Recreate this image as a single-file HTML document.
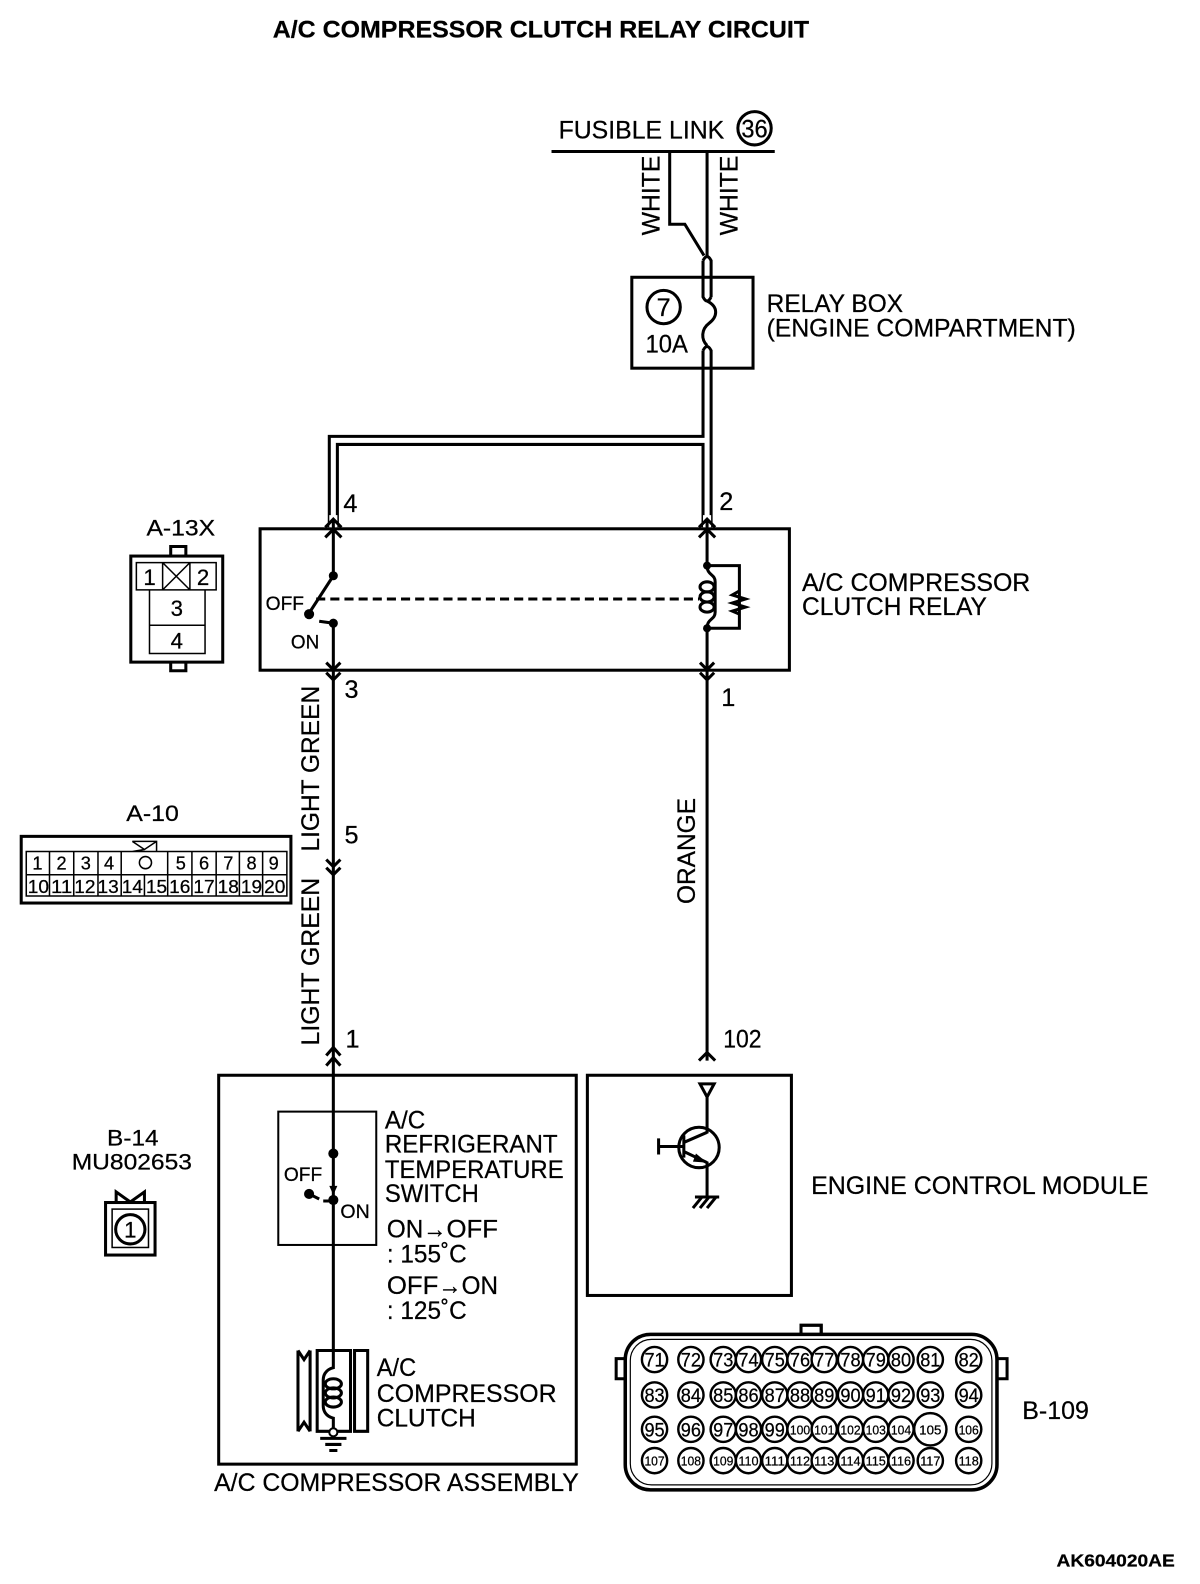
<!DOCTYPE html>
<html><head><meta charset="utf-8"><style>
html,body{margin:0;padding:0;background:#fff}
svg{display:block}
text{font-family:"Liberation Sans",sans-serif;font-size:25px;fill:#000;stroke:#000;stroke-width:.25px}
.s{font-size:19px}
.p{font-size:19px;text-anchor:middle}
.q{font-size:13px;text-anchor:middle}
.c{font-size:18px;text-anchor:middle}
.n{fill:none;stroke:#000;stroke-width:3}
.t{fill:none;stroke:#000;stroke-width:1.5}
.d{fill:#000;stroke:none}
.pin{fill:#fff;stroke:#000;stroke-width:2.4}
</style></head><body>
<svg width="1200" height="1584" viewBox="0 0 1188 1568.16" preserveAspectRatio="none" xmlns="http://www.w3.org/2000/svg">
<rect width="1200" height="1584" fill="#fff"/>
<text x="270" y="37" textLength="531" lengthAdjust="spacingAndGlyphs" style="font-weight:bold;font-size:24px">A/C COMPRESSOR CLUTCH RELAY CIRCUIT</text>
<text x="553" y="137" textLength="164" lengthAdjust="spacingAndGlyphs">FUSIBLE LINK</text>
<circle cx="747" cy="127" r="16.5" class="n"/>
<text x="747" y="136" textLength="26" lengthAdjust="spacingAndGlyphs" text-anchor="middle">36</text>
<path class="n" d="M546 150H767"/>
<path class="n" d="M663 150V222H678L697 253M700 150V253"/>
<text transform="translate(653,233) rotate(-90)" textLength="79" lengthAdjust="spacingAndGlyphs">WHITE</text>
<text transform="translate(730,233) rotate(-90)" textLength="79" lengthAdjust="spacingAndGlyphs">WHITE</text>
<rect x="625.5" y="274.5" width="120" height="90" class="n"/>
<path class="n" d="M696 258Q700 250 704 258V294M696 258V294Q700 302 704 294"/>
<path class="n" d="M700 298C712 304 710 314 702 320C694 326 694 336 700 342"/>
<path class="n" d="M696 347Q700 339 704 347V522M696 347V432H326V522M696 522V440H334V522"/>
<circle cx="657" cy="304" r="16.5" class="n"/>
<text x="657" y="313" text-anchor="middle">7</text>
<text x="639" y="349" textLength="42" lengthAdjust="spacingAndGlyphs">10A</text>
<text x="759" y="309" textLength="135" lengthAdjust="spacingAndGlyphs">RELAY BOX</text>
<text x="759" y="333" textLength="306" lengthAdjust="spacingAndGlyphs">(ENGINE COMPARTMENT)</text>

<rect x="257.5" y="523.5" width="524" height="140" class="n"/>
<text x="340" y="507">4</text><text x="712" y="505">2</text>
<text x="341" y="691">3</text><text x="714" y="699">1</text>
<path class="d" d="M326 510H334V522H326ZM696 510H704V522H696Z" style="fill:#fff"/>
<path class="n" d="M330 514V570M322 522L330 514L338 522M322 532L330 524L338 532"/>
<path class="n" d="M700 514V560M692 522L700 514L708 522M692 532L700 524L708 532"/>
<circle cx="330" cy="570" r="4.5" class="d"/>
<path class="n" d="M330 570L306 607"/>
<circle cx="306" cy="608" r="5" class="d"/>
<path class="n" d="M316 615L330 617V1340"/>
<circle cx="330" cy="617" r="4.5" class="d"/>
<path class="n" d="M323 656L330 663L337 656M323 666L330 673L337 666"/>
<path class="n" stroke-dasharray="9 5" d="M313 593H692"/>
<text x="263" y="604" class="s" textLength="38" lengthAdjust="spacingAndGlyphs">OFF</text>
<text x="288" y="642" class="s" textLength="28" lengthAdjust="spacingAndGlyphs">ON</text>
<circle cx="700" cy="560" r="4" class="d"/><circle cx="700" cy="622" r="4" class="d"/>
<path class="n" d="M700 560H732V622H700M700 560C700 570 708 568 708 576V606C708 614 700 612 700 622"/>
<ellipse cx="700" cy="581" rx="7" ry="5" class="n"/><ellipse cx="700" cy="591" rx="7" ry="5" class="n"/><ellipse cx="700" cy="601" rx="7" ry="5" class="n"/>
<path class="n" d="M732 585L725 589L738 593L725 597L738 601L725 605L732 608" stroke-width="2.5"/>
<path class="n" d="M700 622V1050M693 656L700 663L707 656M693 666L700 673L707 666M692 1050L700 1042L708 1050"/>
<text x="794" y="585" textLength="226" lengthAdjust="spacingAndGlyphs">A/C COMPRESSOR</text>
<text x="794" y="609" textLength="183" lengthAdjust="spacingAndGlyphs">CLUTCH RELAY</text>

<text x="145" y="530" textLength="68" lengthAdjust="spacingAndGlyphs" style="font-size:22px">A-13X</text>
<rect x="129.5" y="550.5" width="91" height="105" class="n"/>
<path class="n" d="M169 550V541H184V550M169 656V664H184V656"/>
<path class="t" d="M135 557H214V584H135ZM161 557V584M188 557V584M161 557L188 584M188 557L161 584M148 584V647H203V584M148 619H203"/>
<text x="148" y="579" class="c" style="font-size:22px">1</text><text x="201" y="579" class="c" style="font-size:22px">2</text>
<text x="175" y="610" class="c" style="font-size:22px">3</text><text x="175" y="642" class="c" style="font-size:22px">4</text>

<text x="125" y="813" textLength="52" lengthAdjust="spacingAndGlyphs" style="font-size:22px">A-10</text>
<rect x="21" y="828" width="267" height="66" class="n"/>
<path class="t" d="M26 843H284V887H26ZM26 866H284M49 843V887M73 843V887M97 843V887M120 843V887M143 866V887M166 843V887M190 843V887M214 843V887M237 843V887M260 843V887M131 833H155V843M131 833L143 841L155 833M131 843L143 841"/>
<circle cx="144" cy="854" r="6" class="t"/>
<g class="c">
<text x="37" y="861" class="c">1</text><text x="61" y="861" class="c">2</text><text x="85" y="861" class="c">3</text><text x="108" y="861" class="c">4</text>
<text x="179" y="861" class="c">5</text><text x="202" y="861" class="c">6</text><text x="226" y="861" class="c">7</text><text x="249" y="861" class="c">8</text><text x="271" y="861" class="c">9</text>
<text x="38" y="884" class="c" textLength="21" lengthAdjust="spacingAndGlyphs">10</text><text x="61" y="884" class="c" textLength="21" lengthAdjust="spacingAndGlyphs">11</text><text x="84" y="884" class="c" textLength="21" lengthAdjust="spacingAndGlyphs">12</text><text x="107" y="884" class="c" textLength="21" lengthAdjust="spacingAndGlyphs">13</text><text x="131" y="884" class="c" textLength="21" lengthAdjust="spacingAndGlyphs">14</text><text x="155" y="884" class="c" textLength="21" lengthAdjust="spacingAndGlyphs">15</text><text x="178" y="884" class="c" textLength="21" lengthAdjust="spacingAndGlyphs">16</text><text x="202" y="884" class="c" textLength="21" lengthAdjust="spacingAndGlyphs">17</text><text x="226" y="884" class="c" textLength="21" lengthAdjust="spacingAndGlyphs">18</text><text x="249" y="884" class="c" textLength="21" lengthAdjust="spacingAndGlyphs">19</text><text x="272" y="884" class="c" textLength="21" lengthAdjust="spacingAndGlyphs">20</text>
</g>

<text transform="translate(316,843) rotate(-90)" textLength="164" lengthAdjust="spacingAndGlyphs">LIGHT GREEN</text>
<text transform="translate(316,1035) rotate(-90)" textLength="166" lengthAdjust="spacingAndGlyphs">LIGHT GREEN</text>
<text transform="translate(688,895) rotate(-90)" textLength="105" lengthAdjust="spacingAndGlyphs">ORANGE</text>
<text x="341" y="835">5</text>
<path class="n" d="M323 851L330 858L337 851M323 859L330 866L337 859"/>
<text x="342" y="1037">1</text>
<text x="716" y="1037" textLength="38" lengthAdjust="spacingAndGlyphs">102</text>
<path class="n" d="M323 1045L330 1037L337 1045M323 1055L330 1047L337 1055"/>

<rect x="216.5" y="1064.5" width="354" height="385" class="n"/>
<rect x="275.5" y="1100.5" width="97" height="132" fill="none" stroke="#000" stroke-width="2"/>
<circle cx="330" cy="1142" r="5" class="d"/>
<path class="d" d="M326 1174H334L330 1183Z"/>
<circle cx="330" cy="1188" r="5" class="d"/>
<circle cx="306" cy="1182" r="5" class="d"/>
<path class="n" d="M306 1182L316 1187M320 1189H330"/>
<text x="281" y="1169" class="s" textLength="38" lengthAdjust="spacingAndGlyphs">OFF</text>
<text x="337" y="1206" class="s" textLength="29" lengthAdjust="spacingAndGlyphs">ON</text>
<text x="381" y="1117" textLength="40" lengthAdjust="spacingAndGlyphs">A/C</text>
<text x="381" y="1141" textLength="171" lengthAdjust="spacingAndGlyphs">REFRIGERANT</text>
<text x="381" y="1166" textLength="177" lengthAdjust="spacingAndGlyphs">TEMPERATURE</text>
<text x="381" y="1190" textLength="93" lengthAdjust="spacingAndGlyphs">SWITCH</text>
<text x="383" y="1225" textLength="36" lengthAdjust="spacingAndGlyphs">ON</text><text x="419" y="1225" textLength="23" lengthAdjust="spacingAndGlyphs">→</text><text x="442" y="1225" textLength="51" lengthAdjust="spacingAndGlyphs">OFF</text>
<text x="383" y="1250" textLength="79" lengthAdjust="spacingAndGlyphs">: 155˚C</text>
<text x="383" y="1281" textLength="51" lengthAdjust="spacingAndGlyphs">OFF</text><text x="434" y="1281" textLength="23" lengthAdjust="spacingAndGlyphs">→</text><text x="457" y="1281" textLength="36" lengthAdjust="spacingAndGlyphs">ON</text>
<text x="383" y="1306" textLength="79" lengthAdjust="spacingAndGlyphs">: 125˚C</text>

<path class="n" d="M295 1337V1417M307 1337V1417M295 1337L301 1346L307 1337M295 1417L301 1408L307 1417M314 1337H347V1417H314ZM351 1337H364V1417H351Z"/>
<path class="n" d="M330 1340V1354C322 1356 320 1362 320 1366V1392C320 1396 322 1402 330 1404V1416"/>
<ellipse cx="330" cy="1370" rx="8" ry="5" class="n"/><ellipse cx="330" cy="1379" rx="8" ry="5" class="n"/><ellipse cx="330" cy="1388" rx="8" ry="5" class="n"/>
<circle cx="330" cy="1418" r="4" fill="#fff" stroke="#000" stroke-width="2"/>
<path class="n" d="M317 1424H343M322 1430H338M326 1436H334"/>
<text x="373" y="1362" textLength="39" lengthAdjust="spacingAndGlyphs">A/C</text>
<text x="373" y="1388" textLength="178" lengthAdjust="spacingAndGlyphs">COMPRESSOR</text>
<text x="373" y="1412" textLength="98" lengthAdjust="spacingAndGlyphs">CLUTCH</text>
<text x="212" y="1476" textLength="361" lengthAdjust="spacingAndGlyphs">A/C COMPRESSOR ASSEMBLY</text>

<rect x="581.5" y="1064.5" width="202" height="218" class="n"/>
<path class="n" d="M693 1073H707L700 1086ZM700 1086V1122M700 1150V1185M652 1135H677M652 1127V1143M677 1124V1146M677 1131L700 1121M677 1140L700 1151"/>
<circle cx="692" cy="1136" r="20" class="n"/>
<path class="d" d="M689 1142L700 1151L686 1150Z"/>
<path class="n" d="M688 1185H712M695 1185L686 1196M702 1185L693 1196M709 1185L700 1196"/>
<text x="803" y="1182" textLength="334" lengthAdjust="spacingAndGlyphs">ENGINE CONTROL MODULE</text>

<text x="106" y="1134" textLength="51" lengthAdjust="spacingAndGlyphs" style="font-size:22px">B-14</text>
<text x="71" y="1158" textLength="119" lengthAdjust="spacingAndGlyphs" style="font-size:22px">MU802653</text>
<rect x="104.5" y="1190.5" width="49" height="52" class="n"/>
<path class="n" d="M115 1190V1180L129 1190L143 1180V1190"/>
<rect x="111" y="1197" width="36" height="38" fill="none" stroke="#000" stroke-width="1.5"/>
<circle cx="129" cy="1217" r="14.5" class="n"/>
<text x="129" y="1225" class="c" style="font-size:22px">1</text>

<path class="n" d="M793 1321V1312H813V1321M610 1345H619V1365H610ZM987 1345H997V1365H987Z"/>
<rect x="619" y="1321" width="368" height="154" rx="25" fill="#fff" stroke="#000" stroke-width="3.5"/>
<rect x="624" y="1326" width="358" height="144" rx="21" fill="none" stroke="#000" stroke-width="1.2"/>
<path class="n" d="M793 1321V1312H813V1321"/>
<g>
<circle cx="648" cy="1346" r="12.5" class="pin"/><circle cx="684" cy="1346" r="12.5" class="pin"/><circle cx="716" cy="1346" r="12.5" class="pin"/><circle cx="741" cy="1346" r="12.5" class="pin"/><circle cx="767" cy="1346" r="12.5" class="pin"/><circle cx="792" cy="1346" r="12.5" class="pin"/><circle cx="816" cy="1346" r="12.5" class="pin"/><circle cx="842" cy="1346" r="12.5" class="pin"/><circle cx="867" cy="1346" r="12.5" class="pin"/><circle cx="892" cy="1346" r="12.5" class="pin"/><circle cx="921" cy="1346" r="12.5" class="pin"/><circle cx="959" cy="1346" r="12.5" class="pin"/>
<circle cx="648" cy="1381" r="12.5" class="pin"/><circle cx="684" cy="1381" r="12.5" class="pin"/><circle cx="716" cy="1381" r="12.5" class="pin"/><circle cx="741" cy="1381" r="12.5" class="pin"/><circle cx="767" cy="1381" r="12.5" class="pin"/><circle cx="792" cy="1381" r="12.5" class="pin"/><circle cx="816" cy="1381" r="12.5" class="pin"/><circle cx="842" cy="1381" r="12.5" class="pin"/><circle cx="867" cy="1381" r="12.5" class="pin"/><circle cx="892" cy="1381" r="12.5" class="pin"/><circle cx="921" cy="1381" r="12.5" class="pin"/><circle cx="959" cy="1381" r="12.5" class="pin"/>
<circle cx="648" cy="1415" r="12.5" class="pin"/><circle cx="684" cy="1415" r="12.5" class="pin"/><circle cx="716" cy="1415" r="12.5" class="pin"/><circle cx="741" cy="1415" r="12.5" class="pin"/><circle cx="767" cy="1415" r="12.5" class="pin"/><circle cx="792" cy="1415" r="12.5" class="pin"/><circle cx="816" cy="1415" r="12.5" class="pin"/><circle cx="842" cy="1415" r="12.5" class="pin"/><circle cx="867" cy="1415" r="12.5" class="pin"/><circle cx="892" cy="1415" r="12.5" class="pin"/><circle cx="921" cy="1415" r="16" class="pin"/><circle cx="959" cy="1415" r="12.5" class="pin"/>
<circle cx="648" cy="1446" r="12.5" class="pin"/><circle cx="684" cy="1446" r="12.5" class="pin"/><circle cx="716" cy="1446" r="12.5" class="pin"/><circle cx="741" cy="1446" r="12.5" class="pin"/><circle cx="767" cy="1446" r="12.5" class="pin"/><circle cx="792" cy="1446" r="12.5" class="pin"/><circle cx="816" cy="1446" r="12.5" class="pin"/><circle cx="842" cy="1446" r="12.5" class="pin"/><circle cx="867" cy="1446" r="12.5" class="pin"/><circle cx="892" cy="1446" r="12.5" class="pin"/><circle cx="921" cy="1446" r="12.5" class="pin"/><circle cx="959" cy="1446" r="12.5" class="pin"/>
</g>
<g>
<text x="648" y="1353" class="p" textLength="20" lengthAdjust="spacingAndGlyphs">71</text><text x="684" y="1353" class="p" textLength="20" lengthAdjust="spacingAndGlyphs">72</text><text x="716" y="1353" class="p" textLength="20" lengthAdjust="spacingAndGlyphs">73</text><text x="741" y="1353" class="p" textLength="20" lengthAdjust="spacingAndGlyphs">74</text><text x="767" y="1353" class="p" textLength="20" lengthAdjust="spacingAndGlyphs">75</text><text x="792" y="1353" class="p" textLength="20" lengthAdjust="spacingAndGlyphs">76</text><text x="816" y="1353" class="p" textLength="20" lengthAdjust="spacingAndGlyphs">77</text><text x="842" y="1353" class="p" textLength="20" lengthAdjust="spacingAndGlyphs">78</text><text x="867" y="1353" class="p" textLength="20" lengthAdjust="spacingAndGlyphs">79</text><text x="892" y="1353" class="p" textLength="20" lengthAdjust="spacingAndGlyphs">80</text><text x="921" y="1353" class="p" textLength="20" lengthAdjust="spacingAndGlyphs">81</text><text x="959" y="1353" class="p" textLength="20" lengthAdjust="spacingAndGlyphs">82</text>
<text x="648" y="1388" class="p" textLength="20" lengthAdjust="spacingAndGlyphs">83</text><text x="684" y="1388" class="p" textLength="20" lengthAdjust="spacingAndGlyphs">84</text><text x="716" y="1388" class="p" textLength="20" lengthAdjust="spacingAndGlyphs">85</text><text x="741" y="1388" class="p" textLength="20" lengthAdjust="spacingAndGlyphs">86</text><text x="767" y="1388" class="p" textLength="20" lengthAdjust="spacingAndGlyphs">87</text><text x="792" y="1388" class="p" textLength="20" lengthAdjust="spacingAndGlyphs">88</text><text x="816" y="1388" class="p" textLength="20" lengthAdjust="spacingAndGlyphs">89</text><text x="842" y="1388" class="p" textLength="20" lengthAdjust="spacingAndGlyphs">90</text><text x="867" y="1388" class="p" textLength="20" lengthAdjust="spacingAndGlyphs">91</text><text x="892" y="1388" class="p" textLength="20" lengthAdjust="spacingAndGlyphs">92</text><text x="921" y="1388" class="p" textLength="20" lengthAdjust="spacingAndGlyphs">93</text><text x="959" y="1388" class="p" textLength="20" lengthAdjust="spacingAndGlyphs">94</text>
<text x="648" y="1422" class="p" textLength="20" lengthAdjust="spacingAndGlyphs">95</text><text x="684" y="1422" class="p" textLength="20" lengthAdjust="spacingAndGlyphs">96</text><text x="716" y="1422" class="p" textLength="20" lengthAdjust="spacingAndGlyphs">97</text><text x="741" y="1422" class="p" textLength="20" lengthAdjust="spacingAndGlyphs">98</text><text x="767" y="1422" class="p" textLength="20" lengthAdjust="spacingAndGlyphs">99</text><text x="792" y="1420" class="q" textLength="20" lengthAdjust="spacingAndGlyphs">100</text><text x="816" y="1420" class="q" textLength="20" lengthAdjust="spacingAndGlyphs">101</text><text x="842" y="1420" class="q" textLength="20" lengthAdjust="spacingAndGlyphs">102</text><text x="867" y="1420" class="q" textLength="20" lengthAdjust="spacingAndGlyphs">103</text><text x="892" y="1420" class="q" textLength="20" lengthAdjust="spacingAndGlyphs">104</text><text x="921" y="1420" class="q" textLength="22" lengthAdjust="spacingAndGlyphs">105</text><text x="959" y="1420" class="q" textLength="20" lengthAdjust="spacingAndGlyphs">106</text>
<text x="648" y="1451" class="q" textLength="20" lengthAdjust="spacingAndGlyphs">107</text><text x="684" y="1451" class="q" textLength="20" lengthAdjust="spacingAndGlyphs">108</text><text x="716" y="1451" class="q" textLength="20" lengthAdjust="spacingAndGlyphs">109</text><text x="741" y="1451" class="q" textLength="20" lengthAdjust="spacingAndGlyphs">110</text><text x="767" y="1451" class="q" textLength="20" lengthAdjust="spacingAndGlyphs">111</text><text x="792" y="1451" class="q" textLength="20" lengthAdjust="spacingAndGlyphs">112</text><text x="816" y="1451" class="q" textLength="20" lengthAdjust="spacingAndGlyphs">113</text><text x="842" y="1451" class="q" textLength="20" lengthAdjust="spacingAndGlyphs">114</text><text x="867" y="1451" class="q" textLength="20" lengthAdjust="spacingAndGlyphs">115</text><text x="892" y="1451" class="q" textLength="20" lengthAdjust="spacingAndGlyphs">116</text><text x="921" y="1451" class="q" textLength="20" lengthAdjust="spacingAndGlyphs">117</text><text x="959" y="1451" class="q" textLength="20" lengthAdjust="spacingAndGlyphs">118</text>
</g>
<text x="1012" y="1405" textLength="66" lengthAdjust="spacingAndGlyphs">B-109</text>
<text x="1046" y="1551" textLength="117" lengthAdjust="spacingAndGlyphs" style="font-weight:bold;font-size:17px">AK604020AE</text>
</svg>
</body></html>
